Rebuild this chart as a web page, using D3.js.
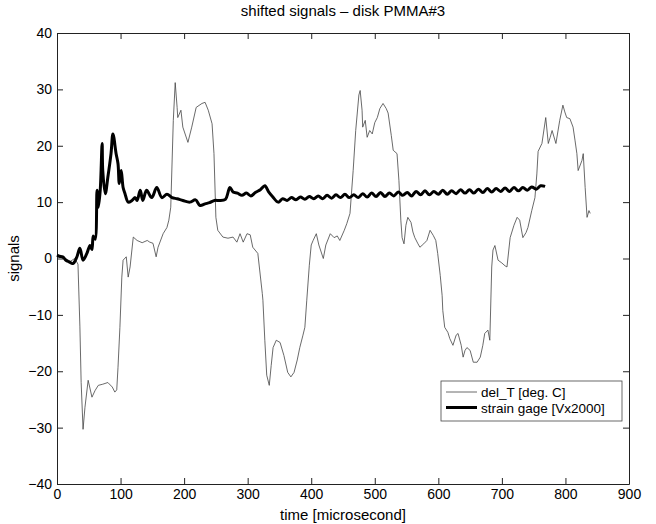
<!DOCTYPE html>
<html>
<head>
<meta charset="utf-8">
<script src="https://cdn.jsdelivr.net/npm/d3@7"></script>
<style>
body { margin: 0; background: #fff; }
text { font-family: "Liberation Sans", Arial, sans-serif; fill: #000; }
</style>
</head>
<body>
<div id="chart"></div>
<script>
// del_T [deg. C] : [time, value]
const delT = [
  [0,0.3],[5,0.2],[13,0.0],[21,-0.5],[28,0.0],[33,-1.0],[36,-12],[38,-22],[41,-30.3],[44,-26.4],
  [49,-21.6],[55,-24.6],[60,-23.4],[65,-22.5],[72,-22.3],[80,-22.0],[87,-22.8],[91,-23.7],[94,-23.3],
  [96,-19.3],[99,-12.2],[102,-3.3],[104,-0.3],[109,0.3],[112,-3.3],[115,-1.5],[120,3.8],[126,3.2],
  [134,2.8],[142,3.2],[146,2.9],[151,2.7],[156,0.3],[159,2.0],[167,4.4],[173,5.5],[176,6.8],[179,9.1],
  [183,24.5],[186,31.2],[189,26.8],[190,25.0],[195,26.3],[198,23.3],[206,20.6],[212,23.3],[219,26.8],
  [228,27.5],[233,27.7],[238,26.3],[244,23.9],[247,18.6],[250,7.3],[253,5.0],[261,3.8],[269,3.6],
  [277,3.8],[283,2.9],[288,4.4],[293,2.9],[299,4.4],[304,4.2],[308,2.0],[316,0.9],[323,-6.2],[324,-7.4],
  [327,-14.5],[330,-20.7],[334,-22.5],[337,-19.0],[340,-15.8],[345,-14.5],[351,-14.9],[357,-17.2],
  [363,-20.2],[368,-21.0],[373,-20.2],[378,-18.0],[382,-15.8],[387,-13.6],[390,-12.2],[393,-7.4],
  [397,-1.2],[400,2.4],[403,3.2],[408,4.4],[412,2.4],[419,0.0],[423,2.4],[430,4.4],[436,3.7],[441,4.0],
  [445,3.2],[452,5.0],[456,6.2],[461,8.0],[466,15.6],[470,22.7],[475,29.0],[477,29.8],[480,26.3],
  [481,23.3],[485,24.5],[488,21.5],[492,22.7],[496,22.1],[500,24.1],[504,25.0],[508,26.6],[513,27.5],
  [518,26.6],[521,25.8],[526,21.8],[529,19.2],[535,18.6],[538,13.8],[541,6.8],[543,3.7],[546,2.6],
  [549,5.9],[552,7.3],[557,6.4],[560,4.7],[563,3.7],[568,2.6],[571,2.0],[577,2.6],[582,3.2],[587,5.0],
  [592,4.1],[596,3.2],[599,0.9],[603,-3.0],[606,-6.6],[607,-9.2],[610,-12.2],[615,-13.1],[618,-14.2],
  [623,-15.4],[628,-13.6],[631,-13.3],[636,-15.4],[639,-17.5],[642,-16.3],[645,-15.8],[650,-16.3],
  [655,-18.4],[661,-18.4],[666,-17.5],[670,-15.4],[673,-13.3],[678,-12.7],[681,-14.5],[684,-1.5],
  [686,1.5],[689,2.3],[694,-0.3],[700,-0.8],[705,-1.3],[708,-1.5],[713,3.7],[719,5.9],[724,7.3],
  [728,6.8],[733,3.7],[738,4.6],[741,5.5],[747,8.5],[752,10.8],[755,15.0],[757,19.0],[763,20.4],
  [769,25.0],[773,20.4],[776,21.5],[779,22.7],[785,20.4],[791,24.5],[796,27.2],[799,26.0],[802,25.0],
  [807,24.8],[812,23.3],[815,21.0],[818,18.6],[820,15.6],[826,17.4],[828,18.6],[831,12.6],[834,7.3],
  [837,8.5],[839,8.0]
];

// strain gage [Vx2000] : [time, value]
const strain = [
  [0,0.6],[4,0.4],[9,0.3],[14,-0.3],[19,-0.6],[25,-0.9],[31,0.2],[36,1.8],[41,-0.3],[47,0.9],
  [52,2.3],[55,1.6],[57,4.0],[60,3.4],[63,12.1],[65,9.1],[68,12.1],[71,20.4],[72,15.6],[76,11.5],
  [80,14.4],[85,18.6],[88,22.1],[93,18.6],[96,16.8],[98,13.3],[101,15.6],[104,12.6],[107,11.5],
  [112,10.0],[118,10.3],[123,10.8],[126,10.3],[131,12.1],[135,10.3],[141,12.1],[149,10.8],[157,12.6],
  [165,10.8],[173,11.4],[181,10.8],[189,10.6],[198,10.3],[209,10.0],[218,10.4],[225,9.4],[233,9.7],
  [240,9.9],[248,10.3],[255,10.3],[265,10.5],[272,12.6],[277,11.8],[284,11.6],[291,11.2],[298,11.6],
  [305,11.1],[312,11.7],[320,12.2],[327,12.9],[333,11.8],[339,11.0],[348,10.0],[355,10.6],[362,10.3],
  [369,10.8],[376,10.4],[383,10.9],[390,10.5],[397,11.0],[404,10.6],[411,11.1],[418,10.6],[425,11.2],
  [432,10.7],[439,11.3],[446,10.8],[453,11.4],[460,10.8],[467,11.3],[474,10.8],[481,11.5],[488,10.9],
  [495,11.6],[502,11.0],[509,11.7],[516,11.0],[523,11.6],[530,11.1],[537,11.8],[544,11.2],[551,11.7],
  [558,11.1],[565,11.9],[572,11.3],[579,12.0],[586,11.3],[593,11.9],[600,11.4],[607,12.1],[614,11.4],
  [621,12.0],[628,11.5],[635,12.2],[642,11.6],[649,12.2],[656,11.6],[663,12.3],[670,11.7],[677,12.4],
  [684,11.8],[691,12.4],[698,11.9],[705,12.5],[712,11.9],[719,12.6],[726,12.0],[733,12.6],[740,12.1],
  [747,12.7],[754,12.3],[761,12.9],[768,12.8]
];

const xTicks = [0, 100, 200, 300, 400, 500, 600, 700, 800, 900];
const yTicks = [-40, -30, -20, -10, 0, 10, 20, 30, 40];
const legendLabels = ["del_T [deg. C]", "strain gage [Vx2000]"];

const width = 656, height = 524;
const margin = {top: 33, right: 27, bottom: 40, left: 57};
const w = width - margin.left - margin.right;
const h = height - margin.top - margin.bottom;

const svg = d3.select("#chart").append("svg")
    .attr("width", width)
    .attr("height", height);

const g = svg.append("g")
    .attr("transform", `translate(${margin.left},${margin.top})`);

const x = d3.scaleLinear().domain([0, 900]).range([0, w]);
const y = d3.scaleLinear().domain([-40, 40]).range([h, 0]);

// axes, ticks inward on all four sides
const styleAxis = sel => {
    sel.selectAll("path").attr("stroke", "#222");
    sel.selectAll("line").attr("stroke", "#222");
    sel.selectAll("text").style("font-size", "14px")
        .style("font-family", "'Liberation Sans', Arial, sans-serif");
};

g.append("g")
    .attr("transform", `translate(0,${h})`)
    .call(d3.axisBottom(x).tickValues(xTicks).tickSizeInner(-6).tickSizeOuter(0).tickPadding(5))
    .call(styleAxis);

g.append("g")
    .call(d3.axisTop(x).tickValues(xTicks).tickSizeInner(-6).tickSizeOuter(0).tickFormat(""))
    .call(styleAxis);

g.append("g")
    .call(d3.axisLeft(y).tickValues(yTicks).tickSizeInner(-6).tickSizeOuter(0).tickPadding(5))
    .call(styleAxis);

g.append("g")
    .attr("transform", `translate(${w},0)`)
    .call(d3.axisRight(y).tickValues(yTicks).tickSizeInner(-6).tickSizeOuter(0).tickFormat(""))
    .call(styleAxis);

// lines
const line = d3.line()
    .x(d => x(d[0]))
    .y(d => y(d[1]));

g.append("path")
    .datum(delT)
    .attr("fill", "none")
    .attr("stroke", "#444")
    .attr("stroke-width", 0.8)
    .attr("d", line);

g.append("path")
    .datum(strain)
    .attr("fill", "none")
    .attr("stroke", "#000")
    .attr("stroke-width", 3)
    .attr("stroke-linejoin", "round")
    .attr("d", line.curve(d3.curveCatmullRom));

// legend
const legend = svg.append("g").attr("transform", "translate(441,381)");
legend.append("rect")
    .attr("width", 181).attr("height", 40)
    .attr("fill", "#fff").attr("stroke", "#444").attr("stroke-width", 0.8);
const items = legend.selectAll("g.item")
    .data(legendLabels)
    .enter().append("g")
    .attr("transform", (d, i) => `translate(0,${11 + i * 15.5})`);
items.append("line")
    .attr("x1", 5).attr("x2", 36)
    .attr("stroke", (d, i) => i === 0 ? "#444" : "#000")
    .attr("stroke-width", (d, i) => i === 0 ? 0.8 : 3);
items.append("text")
    .attr("x", 40).attr("y", 5)
    .style("font-size", "13.5px")
    .text(d => d);

// titles
svg.append("text")
    .attr("x", margin.left + w / 2).attr("y", 16)
    .attr("text-anchor", "middle")
    .style("font-size", "15px")
    .text("shifted signals – disk PMMA#3");

svg.append("text")
    .attr("x", margin.left + w / 2).attr("y", 520)
    .attr("text-anchor", "middle")
    .style("font-size", "15px")
    .text("time [microsecond]");

svg.append("text")
    .attr("transform", `translate(19,${margin.top + h / 2}) rotate(-90)`)
    .attr("text-anchor", "middle")
    .style("font-size", "15px")
    .text("signals");
</script>
</body>
</html>
